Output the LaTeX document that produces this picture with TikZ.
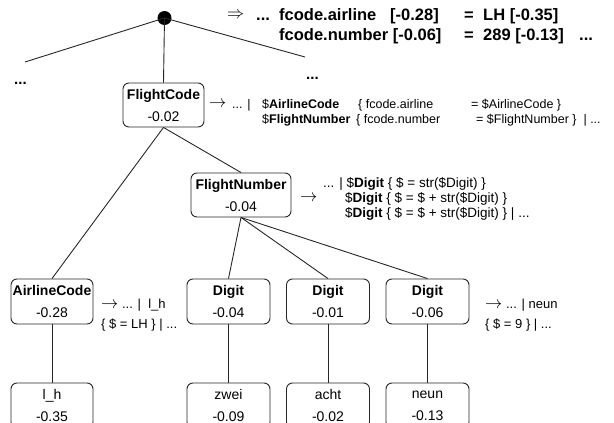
\documentclass[tikz,border=0pt]{standalone}
\usepackage{fontspec}
\setmainfont{Liberation Sans}
\newcommand{\rarr}[1]{{\fontsize{#1}{#1}\selectfont$\rightarrow$}}
\begin{document}
\begin{tikzpicture}[x=1pt,y=-1pt,
  box/.style={draw=black!85, line width=0.9pt, rounded corners=6pt, minimum width=82pt, minimum height=45pt, inner sep=0pt, align=center, font=\fontsize{14}{22}\selectfont},
  edge/.style={draw=black!85, line width=0.9pt},
  ann/.style={inner sep=0pt, anchor=base west},
  anne/.style={inner sep=0pt, anchor=base east},
  annc/.style={inner sep=0pt, anchor=base},
  top/.style={font=\fontsize{16.5}{16.5}\selectfont\bfseries},
  fca/.style={font=\fontsize{12.5}{12.5}\selectfont},
  fna/.style={font=\fontsize{13.5}{13.5}\selectfont},
  lfa/.style={font=\fontsize{13}{13}\selectfont},
  arr/.style={inner sep=0pt, anchor=west}
]
\useasboundingbox (0,0) rectangle (614,423);
\clip (0,0) rectangle (614,423);

% root
\node[circle, fill=black, minimum size=14pt, inner sep=0pt] (root) at (164.5,18) {};
\coordinate (lend) at (25,62);
\coordinate (rend) at (305,57);
\node[ann, font=\fontsize{15}{15}\selectfont\bfseries] (ldots) at (14,84) {...};
\node[ann, font=\fontsize{15}{15}\selectfont\bfseries] (rdots) at (306,79) {...};

% boxes
\node[box, minimum width=81pt, minimum height=44pt] (fc) at (163.5,105) {\textbf{FlightCode}\\-0.02};
\node[box, minimum width=100pt, minimum height=44pt] (fn) at (241,195) {\textbf{FlightNumber}\\-0.04};
\node[box] (ac) at (52,301.5) {\textbf{AirlineCode}\\-0.28};
\node[box, minimum width=83pt] (d1) at (228.5,301.5) {\textbf{Digit}\\-0.04};
\node[box, minimum width=83pt] (d2) at (328,301.5) {\textbf{Digit}\\-0.01};
\node[box, minimum width=83pt] (d3) at (427.5,301.5) {\textbf{Digit}\\-0.06};
\node[box] (lh) at (52,405.5) {l\_h\\-0.35};
\node[box, minimum width=83pt] (zw) at (228.5,405.5) {zwei\\-0.09};
\node[box, minimum width=83pt] (ah) at (328,405.5) {acht\\-0.02};
\node[box, minimum width=83pt] (nn) at (427.5,405.5) {neun\\-0.13};

% edges
\draw[edge] (root.center) -- (lend);
\draw[edge] (root.center) -- (rend);
\draw[edge] (root.center) -- (fc.north);
\draw[edge] (fc.south) -- (ac.north);
\draw[edge] (fc.south) -- (fn.north);
\draw[edge] (fn.south) -- (d1.north);
\draw[edge] (fn.south) -- (d2.north);
\draw[edge] (fn.south) -- (d3.north);
\draw[edge] (ac.south) -- (lh.north);
\draw[edge] (d1.south) -- (zw.north);
\draw[edge] (d2.south) -- (ah.north);
\draw[edge] (d3.south) -- (nn.north);

% top text
\node[arr, font=\fontsize{17}{17}\selectfont] (imp) at (227,15) {$\Rightarrow$};
\node[ann, top] (t0) at (256,20) {...};
\node[ann, top] (t1a) at (279,20) {fcode.airline};
\node[ann, top] (t1b) at (390,20) {[-0.28]};
\node[annc, top] (t1c) at (469,20) {=};
\node[ann, top] (t1d) at (483,20) {LH [-0.35]};
\node[ann, top] (t2a) at (279,40) {fcode.number [-0.06]};
\node[annc, top] (t2c) at (469,40) {=};
\node[ann, top] (t2d) at (483,40) {289 [-0.13]};
\node[ann, top] (t2e) at (579,40) {...};

% FlightCode annotation
\node[arr] (fcarr) at (209,104) {\rarr{17}};
\node[ann, fca] (fc1a) at (232,108) {... |};
\node[ann, fca] (fc1b) at (262,108) {\$\textbf{AirlineCode}};
\node[ann, fca] (fc1c) at (358,108) {\{ fcode.airline};
\node[ann, fca] (fc1d) at (471,108) {= \$AirlineCode \}};
\node[ann, fca] (fc2b) at (262,123) {\$\textbf{FlightNumber}};
\node[ann, fca] (fc2c) at (356,123) {\{ fcode.number};
\node[ann, fca] (fc2d) at (476,123) {= \$FlightNumber \}~~| ...};

% FlightNumber annotation
\node[arr] (fnarr) at (300,198) {\rarr{17}};
\node[ann, fna] (fn1) at (323,187) {... | \$\textbf{Digit} \{ \$ = str(\$Digit) \}};
\node[ann, fna] (fn2) at (345,202) {\$\textbf{Digit} \{ \$ = \$ + str(\$Digit) \}};
\node[ann, fna] (fn3) at (345,217) {\$\textbf{Digit} \{ \$ = \$ + str(\$Digit) \} | ...};

% AirlineCode annotation
\node[ann, lfa] (ac1) at (101,308) {\rarr{16} ... |~~l\_h};
\node[ann, lfa] (ac2) at (101,328) {\{ \$ = LH \} | ...};

% neun annotation
\node[ann, lfa] (nn1) at (485,308) {\rarr{16} ... | neun};
\node[ann, lfa] (nn2) at (485,328) {\{ \$ = 9 \} | ...};
\end{tikzpicture}
\end{document}
